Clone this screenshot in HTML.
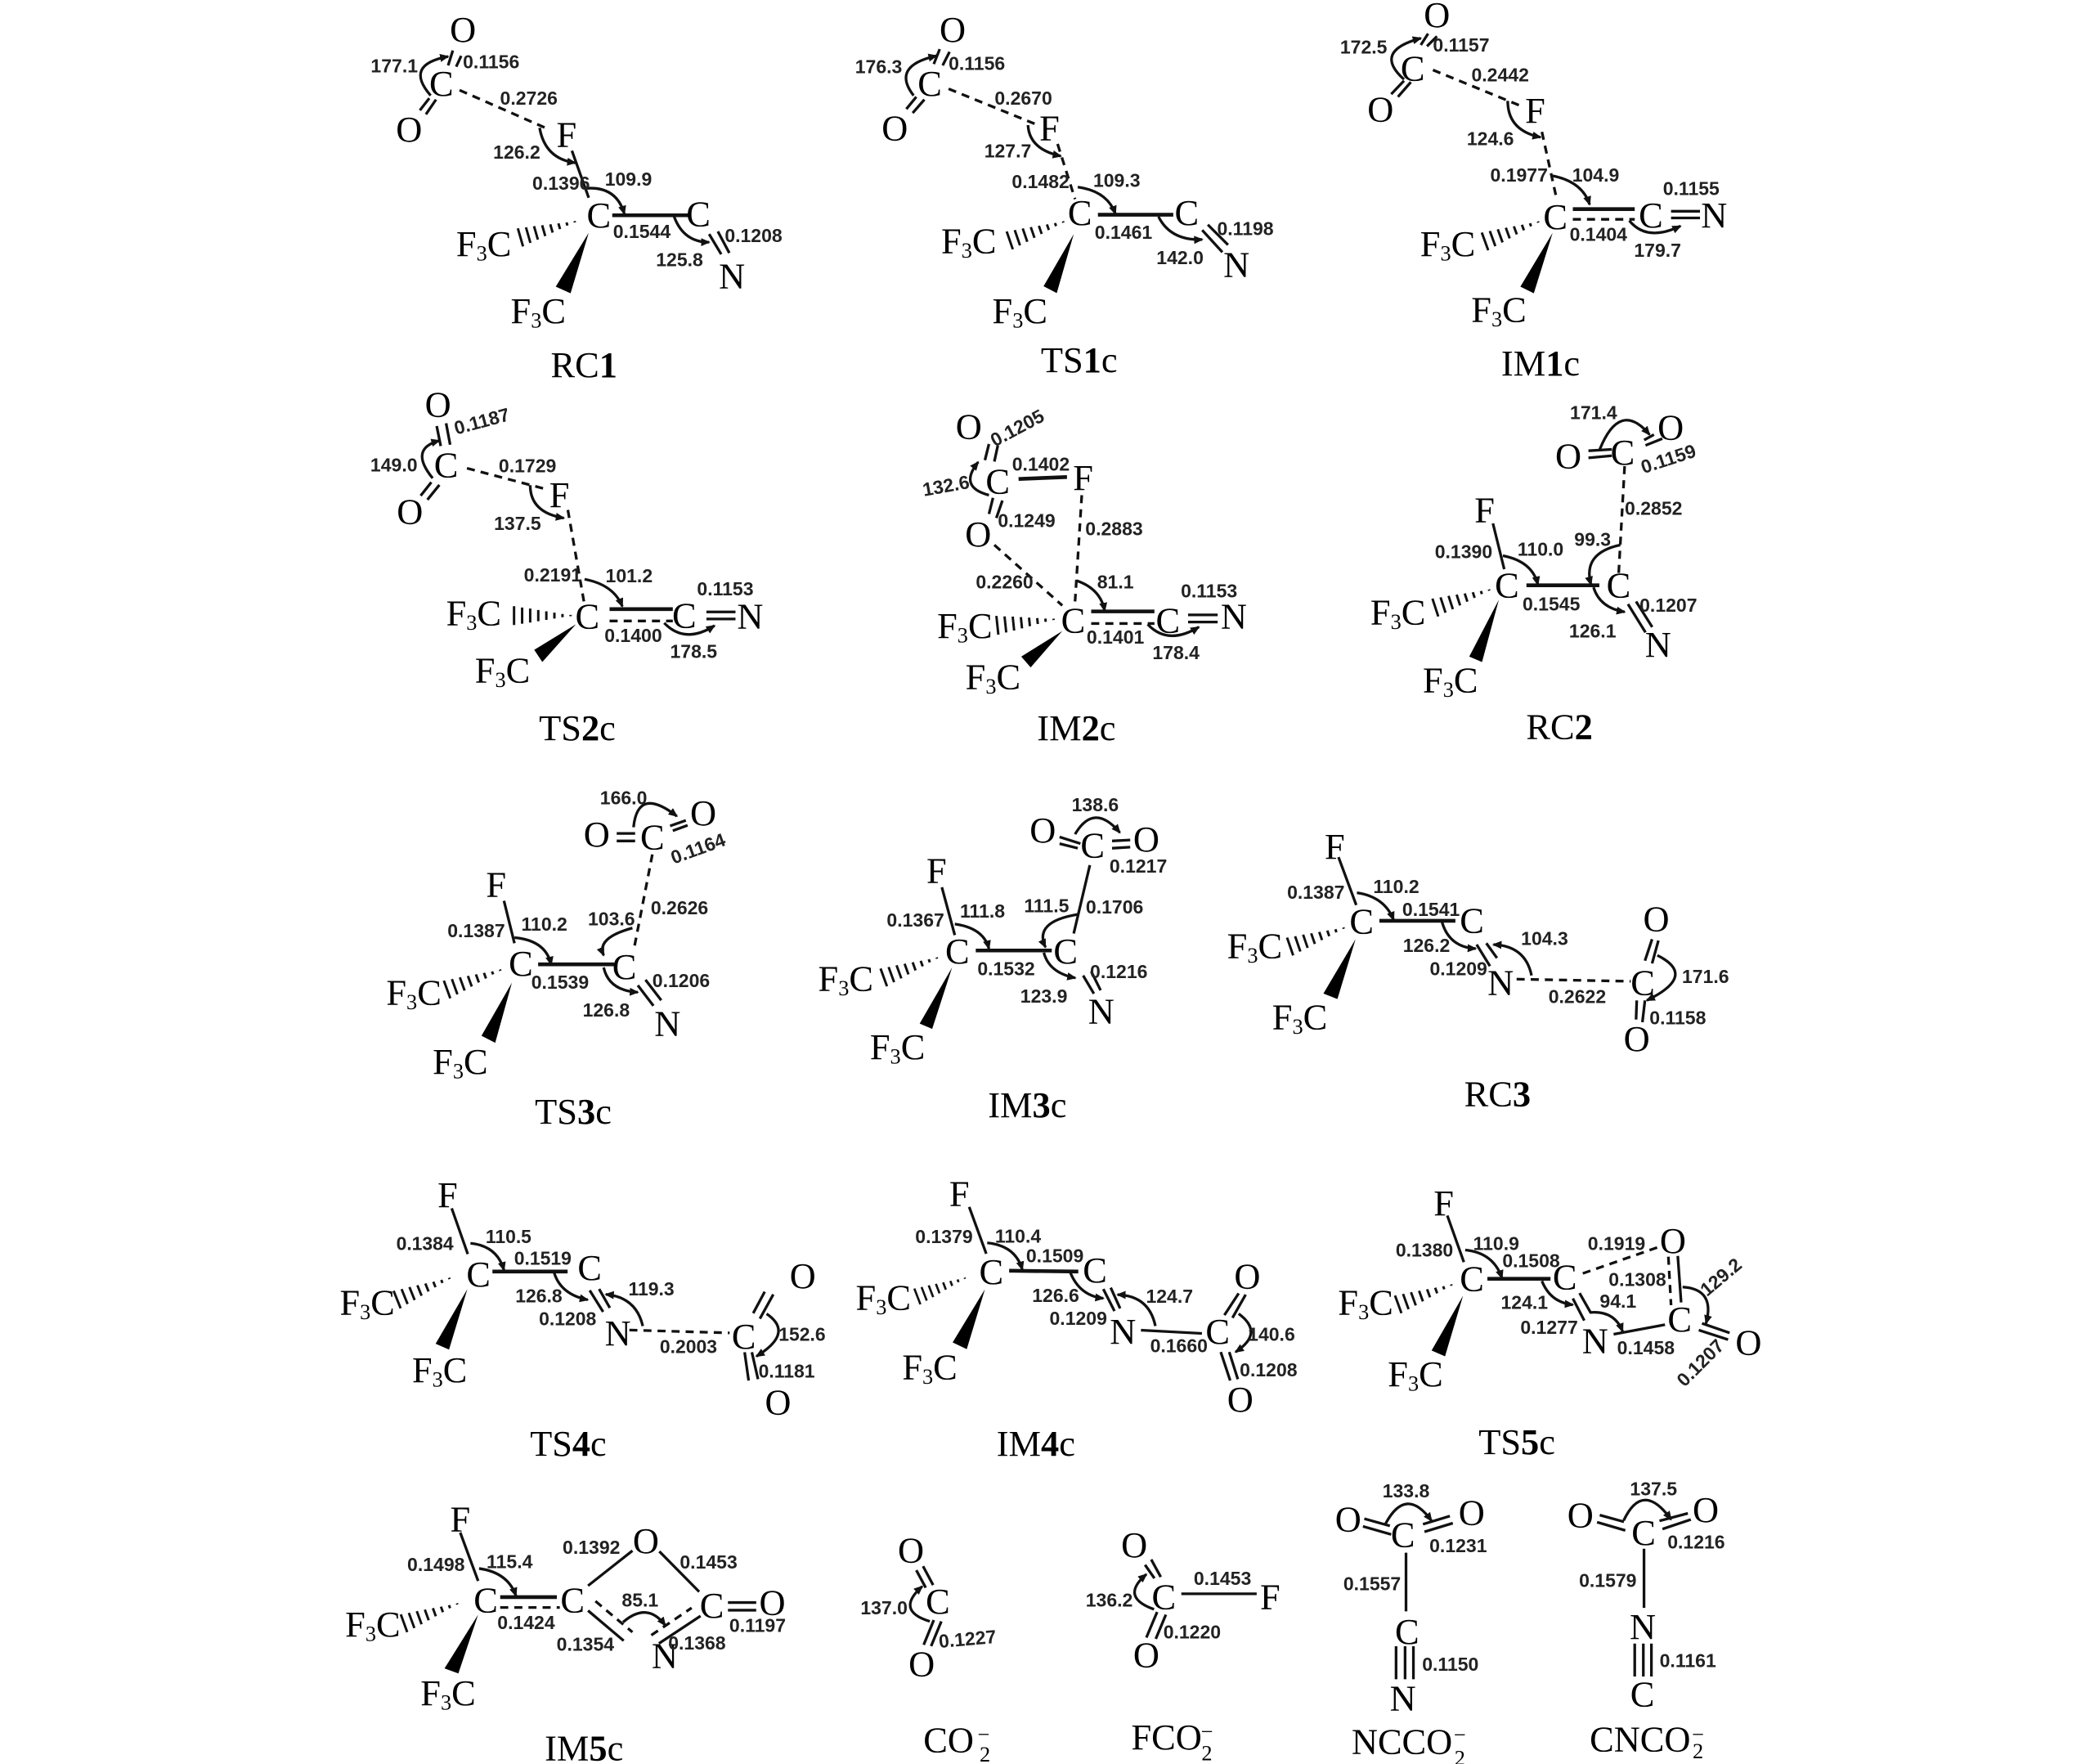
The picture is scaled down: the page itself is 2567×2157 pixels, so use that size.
<!DOCTYPE html>
<html><head><meta charset="utf-8"><style>
html,body{margin:0;padding:0;background:#fff}
svg{display:block}
text{dominant-baseline:central;text-anchor:middle}
.a{font:27px "Liberation Serif",serif;fill:#000}
.s{font-size:16px}
.l{font:27px "Liberation Serif",serif;fill:#000}
.l tspan{font-weight:bold}
.n{font:bold 14px "Liberation Sans",sans-serif;fill:#222}
.b{stroke:#111;stroke-width:2;fill:none}
.t{stroke:#111;stroke-width:2.8;fill:none}
.d{stroke:#111;stroke-width:2;fill:none;stroke-dasharray:6 4.5}
.c{stroke:#111;stroke-width:2;fill:none;marker-end:url(#m)}
.w{fill:#000}
</style></head><body>
<svg width="2567" height="2157" viewBox="0 0 1560 1311" xmlns="http://www.w3.org/2000/svg">
<defs>
<marker id="m" markerUnits="userSpaceOnUse" markerWidth="8" markerHeight="7" refX="6" refY="3" orient="auto"><path d="M0,0L7,3L0,6Z" fill="#111"/></marker>
<g id="h" stroke="#111" stroke-width="1.8"><path d="M-3 -.5V.5M-9 -1.200V1.200M-15 -2.200V2.200M-21 -3.200V3.200M-27 -4.200V4.200M-33 -5.200V5.200M-39 -6V6M-45 -7V7"/></g>
</defs>
<rect width="1560" height="1311" fill="#fff"/>

<!-- RC1 -->
<g>
<path class="b" d="M336.500 37.500L333 48.600M342.700 41.500L339 49.600M319 73L312 82M324 74L316.500 85M425 112L437.500 147M527 174L536 189M533.500 172L542 188"/>
<path class="t" d="M455 160L512 160"/>
<path class="d" d="M341.500 67L407.500 96"/>
<path class="c" d="M320 71Q300 48 333 42"/><path class="c" d="M401 95Q405 118 427.500 121"/><path class="c" d="M435 140Q458 138 464 159"/><path class="c" d="M501 161Q508 180 527 180"/>
<polygon class="w" points="437.500,173 413,213 424,218"/><use href="#h" transform="translate(430 164) rotate(-16)"/>
<text class="a" x="344" y="22">O</text><text class="n" x="365" y="46">0.1156</text><text class="n" x="293" y="49">177.1</text><text class="a" x="328" y="62">C</text><text class="a" x="304" y="96">O</text><text class="n" x="393" y="73">0.2726</text><text class="a" x="421" y="100">F</text><text class="n" x="384" y="113">126.2</text><text class="n" x="417" y="136">0.1396</text><text class="n" x="467" y="133">109.9</text><text class="a" x="445" y="160">C</text><text class="n" x="477" y="172">0.1544</text><text class="a" x="519" y="159">C</text><text class="n" x="505" y="193">125.8</text><text class="n" x="560" y="175">0.1208</text><text class="a" x="544" y="205">N</text>
<text class="a" x="359.500" y="181">F<tspan class="s" dy="7">3</tspan><tspan dy="-7">C</tspan></text><text class="a" x="400" y="231">F<tspan class="s" dy="7">3</tspan><tspan dy="-7">C</tspan></text>
<text class="l" x="434" y="271">RC<tspan>1</tspan></text>
</g>

<!-- TS1c -->
<path class="b" d="M698.400 36.500L694 47.600M705.700 38.500L700.600 48.600M681 72L673.600 81M687 74L678.300 84M893.500 171L908.500 187.400M897.700 167L912.700 182"/>
<path class="t" d="M816 159.600L872 159.600"/>
<path class="d" d="M705 66L769 92M786 107L799 148"/>
<path class="c" d="M679 71Q662 49 696 41.500"/><path class="c" d="M764 93Q765 111 788.400 116"/><path class="c" d="M801 139Q823 142 829 159"/><path class="c" d="M861 161Q870 179 893.500 178"/>
<polygon class="w" points="798,174 775.600,212.700 785.400,217.800"/><use href="#h" transform="translate(793 164) rotate(-19)"/>
<text class="a" x="708" y="22">O</text><text class="n" x="726" y="47">0.1156</text><text class="n" x="653" y="49.600">176.3</text><text class="a" x="691" y="62">C</text><text class="a" x="665" y="95">O</text><text class="n" x="760.600" y="73">0.2670</text><text class="a" x="780" y="95">F</text><text class="n" x="749" y="112">127.7</text><text class="n" x="773.400" y="135">0.1482</text><text class="n" x="830" y="134">109.3</text><text class="a" x="802.600" y="158">C</text><text class="n" x="835" y="172.600">0.1461</text><text class="a" x="882" y="158">C</text><text class="n" x="877" y="191.500">142.0</text><text class="n" x="925.600" y="170">0.1198</text><text class="a" x="919" y="196.500">N</text>
<text class="a" x="720" y="179">F<tspan class="s" dy="7">3</tspan><tspan dy="-7">C</tspan></text><text class="a" x="758" y="231">F<tspan class="s" dy="7">3</tspan><tspan dy="-7">C</tspan></text>
<text class="l" x="802" y="267.500">TS<tspan>1</tspan>c</text>

<!-- IM1c -->
<path class="b" d="M1061.400 25L1056 33.400M1068 27L1060.600 34.400M1043.500 60L1034 70M1048.600 61L1039 72M1242 157L1263.500 157M1242 162L1263.500 162"/>
<path class="t" d="M1169 155.400L1215 155.400"/>
<path class="d" d="M1065 52L1131 79M1146 98L1157 148M1169 163L1215 163"/>
<path class="c" d="M1043.500 59Q1020 38 1056 28.400"/><path class="c" d="M1120.600 75Q1120.600 97 1145 102"/><path class="c" d="M1154 130.700Q1176 135 1181.500 152"/><path class="c" d="M1211 164Q1224 180 1249 168"/>
<polygon class="w" points="1154,173 1130,213 1140,218"/><use href="#h" transform="translate(1146 164) rotate(-20)"/>
<text class="a" x="1068" y="11">O</text><text class="n" x="1086" y="33.400">0.1157</text><text class="n" x="1013.500" y="35">172.5</text><text class="a" x="1050" y="50.600">C</text><text class="a" x="1026" y="81">O</text><text class="n" x="1115" y="55.700">0.2442</text><text class="a" x="1141" y="82">F</text><text class="n" x="1107.700" y="103">124.6</text><text class="n" x="1129" y="130">0.1977</text><text class="n" x="1186" y="130">104.9</text><text class="a" x="1156" y="161">C</text><text class="a" x="1227" y="160">C</text><text class="n" x="1257" y="140">0.1155</text><text class="a" x="1274" y="160">N</text><text class="n" x="1188" y="174">0.1404</text><text class="n" x="1232" y="186">179.7</text>
<text class="a" x="1076" y="181">F<tspan class="s" dy="7">3</tspan><tspan dy="-7">C</tspan></text><text class="a" x="1114" y="230">F<tspan class="s" dy="7">3</tspan><tspan dy="-7">C</tspan></text>
<text class="l" x="1145" y="270">IM<tspan>1</tspan>c</text>

<!-- TS2c -->
<path class="b" d="M324.500 316.600L327.500 331.500M331.500 314.600L334.500 330.500M320.500 358.400L312.600 368.400M326.500 360.400L317.600 371.400M525 454.800L546.600 454.800M525 460L546.600 460"/>
<path class="t" d="M453 452.700L500 452.700"/>
<path class="d" d="M347 348L406 363.600M422 379L434.400 449.700M453 461.500L500 461.500"/>
<path class="c" d="M321.500 355.400Q303.600 333.500 326.500 327.500"/><path class="c" d="M394 360.600Q394 381 419 385"/><path class="c" d="M434.400 430.500Q456 434.500 462.500 450.700"/><path class="c" d="M493.600 463Q509 479 531 465"/>
<polygon class="w" points="428,464 397,483 403,492"/><use href="#h" transform="translate(427 457.500)"/>
<text class="a" x="325.500" y="300.600">O</text><text class="n" x="358" y="313" transform="rotate(-15 358 313)">0.1187</text><text class="n" x="292.700" y="345.400">149.0</text><text class="a" x="331.500" y="345.400">C</text><text class="a" x="304.600" y="380.300">O</text><text class="n" x="392" y="346">0.1729</text><text class="a" x="415.700" y="367.600">F</text><text class="n" x="384.600" y="389">137.5</text><text class="n" x="410.700" y="427.400">0.2191</text><text class="n" x="467.500" y="428">101.2</text><text class="a" x="436.500" y="458">C</text><text class="a" x="508.500" y="457.500">C</text><text class="n" x="539" y="437.600">0.1153</text><text class="a" x="557.500" y="458">N</text><text class="n" x="470.600" y="472.400">0.1400</text><text class="n" x="515.500" y="484">178.5</text>
<text class="a" x="352" y="455.500">F<tspan class="s" dy="7">3</tspan><tspan dy="-7">C</tspan></text><text class="a" x="373.400" y="498">F<tspan class="s" dy="7">3</tspan><tspan dy="-7">C</tspan></text>
<text class="l" x="429" y="541">TS<tspan>2</tspan>c</text>

<!-- RC2 -->
<g transform="translate(-3 0)">
<path class="b" d="M1225 327L1232.300 323M1226 331L1238.500 326M1183.600 335L1201 334M1183.600 340.300L1201 338.700M1112.600 389L1121 423M1213 449L1226 470M1219 447L1231 466"/>
<path class="t" d="M1137.500 435L1191.700 435"/>
<path class="d" d="M1210.500 346.400L1206 427.400"/>
<path class="c" d="M1192 334Q1207 297 1229 323"/><path class="c" d="M1120 413Q1142 417.300 1146 434.500"/><path class="c" d="M1207.300 405Q1179 411 1185.500 434.500"/><path class="c" d="M1187.400 436.500Q1192 451.700 1210.500 454.800"/>
<polygon class="w" points="1117,445.700 1095,488 1104.500,492"/><use href="#h" transform="translate(1112.600 437.600) rotate(-18)"/>
<text class="n" x="1187.400" y="306.500">171.4</text><text class="a" x="1209" y="336">C</text><text class="a" x="1244.700" y="317.600">O</text><text class="a" x="1168.700" y="338.700">O</text><text class="n" x="1243" y="341" transform="rotate(-18 1243 341)">0.1159</text><text class="n" x="1232" y="377.800">0.2852</text><text class="n" x="1186.700" y="400.700">99.3</text><text class="a" x="1106.400" y="379">F</text><text class="n" x="1090.800" y="410">0.1390</text><text class="n" x="1148" y="408">110.0</text><text class="a" x="1123" y="435">C</text><text class="a" x="1206" y="435">C</text><text class="n" x="1156" y="448.700">0.1545</text><text class="n" x="1243" y="449.700">0.1207</text><text class="n" x="1186.700" y="469">126.1</text><text class="a" x="1235.400" y="479">N</text>
<text class="a" x="1042" y="454.800">F<tspan class="s" dy="7">3</tspan><tspan dy="-7">C</tspan></text><text class="a" x="1081" y="505.400">F<tspan class="s" dy="7">3</tspan><tspan dy="-7">C</tspan></text>
<text class="l" x="1162" y="540">RC<tspan>2</tspan></text>
</g>

<!-- TS3c -->
<path class="b" d="M458.300 619.400L472 619.400M458.300 625L472 625M498 613.800L509.700 609.700M500 617.400L511 613.400M374.500 669.500L382.300 701M474 732.300L485.600 747.500M479.700 728.200L491.400 743.400"/>
<path class="t" d="M399.900 716.700L456.400 716.700"/>
<path class="d" d="M484.800 635L470.800 707"/>
<path class="c" d="M470.800 614.800Q474 584 503 606.600"/><path class="c" d="M382.300 696.800Q405.700 698.900 409.600 717"/><path class="c" d="M470 689.700Q443 697 448.600 710"/><path class="c" d="M448.600 719Q452.500 736.300 474 737.400"/>
<polygon class="w" points="380.400,730.300 357.800,769.800 368,775"/><use href="#h" transform="translate(374.500 720) rotate(-20)"/>
<text class="n" x="463.400" y="593">166.0</text><text class="a" x="443.500" y="620">O</text><text class="a" x="484.800" y="622">C</text><text class="a" x="522.600" y="604">O</text><text class="n" x="518.700" y="630.600" transform="rotate(-20 518.700 630.600)">0.1164</text><text class="n" x="505" y="674.600">0.2626</text><text class="n" x="454.400" y="683">103.6</text><text class="a" x="368.700" y="657.300">F</text><text class="n" x="353.900" y="691.800">0.1387</text><text class="n" x="404.500" y="686.700">110.2</text><text class="a" x="387" y="716">C</text><text class="a" x="464" y="718.500">C</text><text class="n" x="416.200" y="730">0.1539</text><text class="n" x="506.200" y="728.800">0.1206</text><text class="n" x="450.500" y="750.500">126.8</text><text class="a" x="496" y="760.700">N</text>
<text class="a" x="307.500" y="737.400">F<tspan class="s" dy="7">3</tspan><tspan dy="-7">C</tspan></text><text class="a" x="342" y="789">F<tspan class="s" dy="7">3</tspan><tspan dy="-7">C</tspan></text>
<text class="l" x="426" y="826">TS<tspan>3</tspan>c</text>

<!-- IM3c -->
<path class="b" d="M787.500 622L803 627M787.500 627L801 630.400M826.500 625L840 624.300M826.500 630.400L840 629.600M810 643L798 693.800M700 659.400L709.600 695M805 725L813 738.500M811 722L818 736"/>
<path class="t" d="M725.200 706.400L781.700 706.400"/>
<path class="c" d="M799 620Q813 596 832.300 618.800"/><path class="c" d="M801 679.600Q768 685 777 704"/><path class="c" d="M709.600 686.700Q731 689.700 735 705"/><path class="c" d="M775.800 708Q779.700 723 799.200 726.800"/>
<polygon class="w" points="707.600,719 683.500,760.700 692.800,764.700"/><use href="#h" transform="translate(699.100 711) rotate(-20)"/>
<text class="n" x="814" y="598">138.6</text><text class="a" x="775" y="616.800">O</text><text class="a" x="812" y="628">C</text><text class="a" x="852" y="623.500">O</text><text class="n" x="846" y="643.600">0.1217</text><text class="n" x="828.400" y="674">0.1706</text><text class="n" x="777.800" y="673">111.5</text><text class="a" x="696" y="647">F</text><text class="n" x="680.400" y="683.700">0.1367</text><text class="n" x="730.200" y="677">111.8</text><text class="a" x="711.500" y="707">C</text><text class="a" x="792" y="707">C</text><text class="n" x="747.800" y="720">0.1532</text><text class="n" x="831.500" y="722">0.1216</text><text class="n" x="775.800" y="740.400">123.9</text><text class="a" x="818.500" y="751.500">N</text>
<text class="a" x="628.500" y="727.200">F<tspan class="s" dy="7">3</tspan><tspan dy="-7">C</tspan></text><text class="a" x="667" y="778">F<tspan class="s" dy="7">3</tspan><tspan dy="-7">C</tspan></text>
<text class="l" x="763.500" y="821">IM<tspan>3</tspan>c</text>

<!-- RC3 -->
<path class="b" d="M994.800 637L1008 672.600M1097.500 702L1107.400 718M1104.700 701L1112.600 712M1222.600 714L1227.900 698M1227.900 716L1232.600 699M1216.500 743.500L1216 757.700M1222.600 743.500L1220.700 759.700"/>
<path class="t" d="M1025.200 684.300L1081.700 684.300"/>
<path class="d" d="M1127.200 727.700L1212 729.300"/>
<path class="c" d="M1008.500 663.500Q1029 666.500 1035.800 683.700"/><path class="c" d="M1071.600 684.700Q1076.900 704 1096.800 705"/><path class="c" d="M1138.300 725Q1133.800 703 1110 702"/><path class="c" d="M1231.800 710Q1262 725 1224 743.500"/>
<polygon class="w" points="1007.500,698 983.600,738.400 994,742.500"/><use href="#h" transform="translate(1001.400 688.800) rotate(-19)"/>
<text class="a" x="992" y="629">F</text><text class="n" x="978" y="663">0.1387</text><text class="n" x="1037.700" y="658.800">110.2</text><text class="a" x="1012" y="684.700">C</text><text class="a" x="1094" y="684">C</text><text class="n" x="1063.600" y="676">0.1541</text><text class="n" x="1060.200" y="702.600">126.2</text><text class="n" x="1148" y="697.500">104.3</text><text class="n" x="1084" y="719.800">0.1209</text><text class="a" x="1115.300" y="730.300">N</text><text class="a" x="1231" y="682.700">O</text><text class="a" x="1221" y="730.300">C</text><text class="n" x="1172.300" y="740.500">0.2622</text><text class="n" x="1267.600" y="725.700">171.6</text><text class="a" x="1216.500" y="771.900">O</text><text class="n" x="1247" y="756.300">0.1158</text>
<text class="a" x="932.500" y="703">F<tspan class="s" dy="7">3</tspan><tspan dy="-7">C</tspan></text><text class="a" x="966" y="755.700">F<tspan class="s" dy="7">3</tspan><tspan dy="-7">C</tspan></text>
<text class="l" x="1113" y="813">RC<tspan>3</tspan></text>

<!-- IM4c -->
<path class="b" d="M720.300 897L733 931.800M820 958L828.300 974.400M825.500 957L832.500 972.400M848 988.600L893.300 991M910 977.400L920.600 961.200M916 979.400L925.800 962.200M907.300 1004.800L914.300 1026M913.600 1004.800L920 1025"/>
<path class="t" d="M750 944.400L801.400 945"/>
<path class="c" d="M733.700 923.700Q754.700 925.700 759.800 943.600"/><path class="c" d="M795.600 946Q802.600 963 820 964.900"/><path class="c" d="M858.700 985.500Q854 963 830.600 962.200"/><path class="c" d="M920.600 976.400Q940 990.600 918.300 1004.800"/>
<polygon class="w" points="732,958.200 708,997.700 718.500,1002.700"/><use href="#h" transform="translate(719.600 949) rotate(-21) scale(.9)"/>
<text class="a" x="713" y="887">F</text><text class="n" x="701.600" y="919">0.1379</text><text class="n" x="756.600" y="918.700">110.4</text><text class="n" x="784" y="933.200">0.1509</text><text class="a" x="736.700" y="945">C</text><text class="a" x="813.800" y="944">C</text><text class="n" x="784.600" y="962.600">126.6</text><text class="n" x="869.200" y="963.200">124.7</text><text class="n" x="801.400" y="979.800">0.1209</text><text class="a" x="834.600" y="989.600">N</text><text class="a" x="927" y="948.500">O</text><text class="a" x="905" y="989.600">C</text><text class="n" x="945" y="991.600">140.6</text><text class="n" x="876.200" y="1000">0.1660</text><text class="n" x="942.800" y="1018">0.1208</text><text class="a" x="921.800" y="1040">O</text>
<text class="a" x="656.500" y="964.300">F<tspan class="s" dy="7">3</tspan><tspan dy="-7">C</tspan></text><text class="a" x="691" y="1016">F<tspan class="s" dy="7">3</tspan><tspan dy="-7">C</tspan></text>
<text class="l" x="769.900" y="1072.600">IM<tspan>4</tspan>c</text>

<!-- IM2c -->
<g>
<path class="b" d="M732 342L735 330M739 343L741.600 331M735 382L738 370M740.500 385L745 372M883 457L905 457M883 462.300L905 462.300"/>
<path class="t" d="M757 356L793 354.500M811 454.400L858 454.400"/>
<path class="d" d="M804 368L799 447M739 405L789.500 450M811 463.400L858 463.400"/>
<path class="c" d="M735 368Q712 362 727 343.400"/><path class="c" d="M800 431.500Q818 437.600 821 454"/><path class="c" d="M853 464Q868 480 891 466"/>
<polygon class="w" points="789.500,469 759,488 766,496"/><use href="#h" transform="translate(786 460) rotate(-6)"/>
<text class="a" x="720" y="317">O</text><text class="n" x="756" y="318" transform="rotate(-28 756 318)">0.1205</text><text class="a" x="741.500" y="357.600">C</text><text class="a" x="805" y="355">F</text><text class="n" x="773.600" y="345">0.1402</text><text class="n" x="703" y="361" transform="rotate(-10 703 361)">132.6</text><text class="n" x="763" y="387">0.1249</text><text class="a" x="727" y="397">O</text><text class="n" x="828" y="393">0.2883</text><text class="n" x="746.600" y="432.500">0.2260</text><text class="n" x="829" y="432.500">81.1</text><text class="a" x="797.600" y="461">C</text><text class="a" x="868" y="461">C</text><text class="n" x="898.600" y="439">0.1153</text><text class="a" x="917" y="458">N</text><text class="n" x="829" y="473.600">0.1401</text><text class="n" x="874" y="485">178.4</text>
<text class="a" x="717" y="465">F<tspan class="s" dy="7">3</tspan><tspan dy="-7">C</tspan></text><text class="a" x="738" y="503">F<tspan class="s" dy="7">3</tspan><tspan dy="-7">C</tspan></text>
<text class="l" x="800" y="541">IM<tspan>2</tspan>c</text>
</g>

<!-- TS4c -->
<g transform="translate(1 0) scale(.996 1)">
<path class="b" d="M336 898L348 932M439 959L449 975M446 958L454 972M561 976L569.600 960M566 980L576 962M554.600 1005L557.600 1026M560 1005L564.600 1025"/>
<path class="t" d="M366.400 945L422.500 945"/>
<path class="d" d="M468.600 988.500L543.400 990.600"/>
<path class="c" d="M350 924Q370 926 375 944"/><path class="c" d="M412.500 946Q417.500 962 437.500 966"/><path class="c" d="M478.600 985.500Q473.600 964 451 962"/><path class="c" d="M571 976.400Q592 990.600 563.400 1008"/>
<polygon class="w" points="347.700,958 324,998.700 334,1003"/><use href="#h" transform="translate(337 949) rotate(-22)"/>
<text class="a" x="333" y="888">F</text><text class="n" x="316" y="924">0.1384</text><text class="n" x="378.400" y="919">110.5</text><text class="n" x="404" y="935">0.1519</text><text class="a" x="439" y="942">C</text><text class="a" x="356" y="947">C</text><text class="n" x="401" y="963">126.8</text><text class="n" x="485" y="958">119.3</text><text class="n" x="422.500" y="980">0.1208</text><text class="a" x="460" y="990.600">N</text><text class="a" x="598" y="948">O</text><text class="a" x="554" y="993">C</text><text class="n" x="597.500" y="991.600">152.6</text><text class="n" x="512.700" y="1000.700">0.2003</text><text class="n" x="586" y="1019">0.1181</text><text class="a" x="579.500" y="1042">O</text>
<text class="a" x="273" y="968">F<tspan class="s" dy="7">3</tspan><tspan dy="-7">C</tspan></text><text class="a" x="327" y="1018">F<tspan class="s" dy="7">3</tspan><tspan dy="-7">C</tspan></text>
<text class="l" x="423" y="1072.600">TS<tspan>4</tspan>c</text>
</g>

<!-- TS5c -->
<g>
<path class="b" d="M1075.700 903.400L1088 938M1247 933.400L1249.500 968M1169 965L1177.500 981.400M1174 961L1182.500 976M1199.300 991.600L1237.500 984.500M1262.600 988.500L1284.400 995.600M1265 983.500L1285.500 990.600"/>
<path class="t" d="M1105.500 950.400L1152.400 950.400"/>
<path class="d" d="M1176.400 946.400L1233 926.700M1240 934L1242 970"/>
<path class="c" d="M1089 929Q1110 931 1116.400 950"/><path class="c" d="M1146 952Q1152.400 968 1169 969.700"/><path class="c" d="M1182 975.400Q1200 974 1206 989.500"/><path class="c" d="M1250.600 956.500Q1275 958 1268 983.500"/>
<polygon class="w" points="1087.400,963 1064,1003.700 1074,1008"/><use href="#h" transform="translate(1081.500 954) rotate(-20)"/>
<text class="a" x="1073" y="894">F</text><text class="n" x="1058.700" y="929">0.1380</text><text class="n" x="1112" y="924">110.9</text><text class="a" x="1094" y="950.400">C</text><text class="n" x="1138" y="937">0.1508</text><text class="a" x="1163" y="949">C</text><text class="n" x="1201.500" y="924">0.1919</text><text class="a" x="1243.400" y="922">O</text><text class="n" x="1217" y="951">0.1308</text><text class="n" x="1279" y="949" transform="rotate(-40 1279 949)">129.2</text><text class="n" x="1133" y="968">124.1</text><text class="n" x="1202.600" y="967">94.1</text><text class="n" x="1151.400" y="986.500">0.1277</text><text class="a" x="1185.600" y="996.600">N</text><text class="a" x="1248.400" y="980.400">C</text><text class="n" x="1223.300" y="1001.700">0.1458</text><text class="a" x="1299.600" y="997.700">O</text><text class="n" x="1263.700" y="1012.800" transform="rotate(-45 1263.700 1012.800)">0.1207</text>
<text class="a" x="1015" y="968">F<tspan class="s" dy="7">3</tspan><tspan dy="-7">C</tspan></text><text class="a" x="1052" y="1021">F<tspan class="s" dy="7">3</tspan><tspan dy="-7">C</tspan></text>
<text class="l" x="1127.400" y="1071.600">TS<tspan>5</tspan>c</text>
</g>

<!-- IM5c -->
<g transform="translate(-1 0)">
<path class="b" d="M343 1139L356.300 1175M438 1178.500L471 1152.500M491 1153L520.600 1183M438 1197L464.500 1219.400M490.700 1221.400L521.600 1201M542 1191L563 1191M542 1196.700L563 1196.700"/>
<path class="t" d="M372.700 1187L414.800 1187"/>
<path class="d" d="M372.700 1194.700L417 1194.700M443.500 1190L471 1213M485 1215.300L515 1195"/>
<path class="c" d="M357 1165.700Q378.500 1168.700 384.400 1186"/><path class="c" d="M464 1205.600Q482 1190 495.400 1208"/>
<polygon class="w" points="356.300,1200 331.300,1240 341.600,1243.700"/><use href="#h" transform="translate(343.500 1191) rotate(-20)"/>
<text class="a" x="343" y="1129">F</text><text class="n" x="325" y="1162.600">0.1498</text><text class="n" x="379.700" y="1160.600">115.4</text><text class="a" x="362" y="1189">C</text><text class="n" x="440.500" y="1150">0.1392</text><text class="a" x="481" y="1145">O</text><text class="n" x="527.600" y="1161">0.1453</text><text class="a" x="426.500" y="1189">C</text><text class="n" x="476.700" y="1189">85.1</text><text class="a" x="530" y="1193">C</text><text class="a" x="575" y="1191">O</text><text class="n" x="392" y="1206">0.1424</text><text class="n" x="564" y="1208">0.1197</text><text class="n" x="436" y="1222">0.1354</text><text class="a" x="495" y="1230.500">N</text><text class="n" x="519" y="1221">0.1368</text>
<text class="a" x="278" y="1207">F<tspan class="s" dy="7">3</tspan><tspan dy="-7">C</tspan></text><text class="a" x="334" y="1258">F<tspan class="s" dy="7">3</tspan><tspan dy="-7">C</tspan></text>
<text class="l" x="435" y="1299">IM<tspan>5</tspan>c</text>
</g>

<!-- CO2 / FCO2 -->
<g>
<path class="b" d="M681 1167L688 1180M686 1164L693.500 1178M694 1204L686.500 1222.400M699.600 1205L692 1223.400M851 1163L858 1173M855.600 1159L862.700 1172M860 1198L852 1217M866.500 1200L859 1218M878 1184.500L934 1184.500"/>
<path class="c" d="M691 1205Q665 1197 685.400 1179"/><path class="c" d="M857.700 1196Q832 1187 852 1170"/>
<text class="a" x="677" y="1152">O</text><text class="a" x="697" y="1190">C</text><text class="n" x="657" y="1195">137.0</text><text class="n" x="719" y="1218" transform="rotate(-5 719 1218)">0.1227</text><text class="a" x="685" y="1236.600">O</text>
<text class="l" x="705" y="1293">CO</text><text class="a s" x="732" y="1304">2</text><text class="a s" x="731" y="1289">−</text>
<text class="a" x="843" y="1148">O</text><text class="a" x="865" y="1186.600">C</text><text class="a" x="944" y="1186.600">F</text><text class="n" x="908.600" y="1173">0.1453</text><text class="n" x="824.400" y="1189">136.2</text><text class="n" x="886" y="1212.700">0.1220</text><text class="a" x="852" y="1230">O</text>
<text class="l" x="867" y="1291">FCO</text><text class="a s" x="897" y="1303">2</text><text class="a s" x="897" y="1287">−</text>
</g>

<!-- NCCO2 -->
<g transform="translate(-8 0)">
<path class="b" d="M1022 1128.700L1041 1134M1021 1134.400L1042 1140.400M1065.600 1132.800L1085.600 1126.700M1066.700 1138.400L1087.800 1132M1053 1154L1053 1197.600M1045.600 1223.500V1248M1052.300 1223.500V1248M1058.500 1223.500V1248"/>
<path class="c" d="M1037.800 1132.400Q1053 1104 1072 1130.300"/>
<text class="n" x="1053" y="1108">133.8</text><text class="a" x="1010" y="1129">O</text><text class="a" x="1050.700" y="1140.500">C</text><text class="a" x="1101.800" y="1124">O</text><text class="n" x="1091.800" y="1148.600">0.1231</text><text class="n" x="1027.800" y="1177">0.1557</text><text class="a" x="1053.800" y="1212.400">C</text><text class="n" x="1086" y="1236.700">0.1150</text><text class="a" x="1050.700" y="1262">N</text>
<text class="l" x="1050" y="1294.400">NCCO</text><text class="a s" x="1093" y="1306.600">2</text><text class="a s" x="1093" y="1289.400">−</text>
</g>

<!-- CNCO2 -->
<g transform="translate(-12 0)">
<path class="b" d="M1201 1126L1219 1131M1199 1131.300L1220 1137.400M1245.400 1130.300L1266.500 1124.700M1247.600 1136.400L1268.700 1129.300M1233.900 1151L1233.900 1195M1227 1221.500V1246M1233.400 1221.500V1246M1239.400 1221.500V1246"/>
<path class="c" d="M1218.800 1130Q1233 1100 1254 1129.300"/>
<text class="n" x="1241" y="1106.400">137.5</text><text class="a" x="1186.600" y="1126">O</text><text class="a" x="1233.600" y="1139">C</text><text class="a" x="1279.800" y="1122">O</text><text class="n" x="1272.700" y="1146">0.1216</text><text class="n" x="1207" y="1174.500">0.1579</text><text class="a" x="1233" y="1209">N</text><text class="n" x="1266.500" y="1234">0.1161</text><text class="a" x="1232.700" y="1259">C</text>
<text class="l" x="1231" y="1292.400">CNCO</text><text class="a s" x="1274" y="1301.500">2</text><text class="a s" x="1274" y="1289">−</text>
</g>
</svg>
</body></html>
